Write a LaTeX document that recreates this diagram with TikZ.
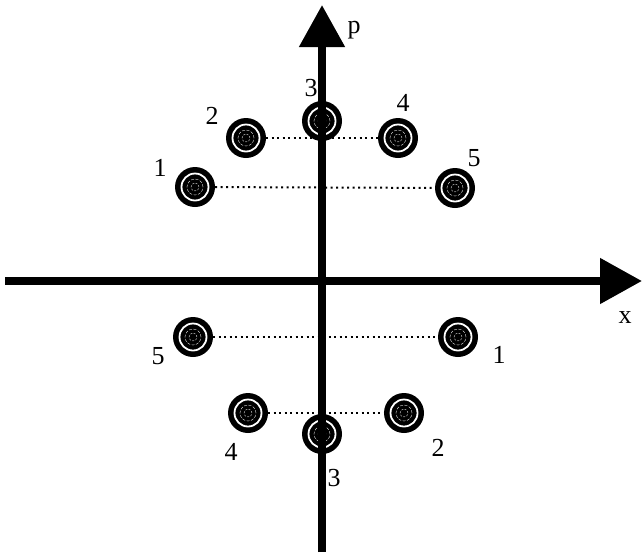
\documentclass[tikz,border=0pt]{standalone}
\usepackage{fontspec}
\setmainfont{Liberation Serif}
\usepackage{tikz}
\usetikzlibrary{arrows.meta}

\begin{document}
\begin{tikzpicture}[x=1pt,y=-1pt,
  every node/.style={font=\fontsize{26}{30}\selectfont},
  axis/.style={line width=8pt,-{Triangle[length=42pt,width=44pt]}},
  pair/.style={line width=2pt,dash pattern=on 2pt off 3.5pt},
  ring/.style={circle,fill=black,minimum size=40pt,inner sep=0pt,
    path picture={
      \draw[white,line width=1.8pt] (path picture bounding box.center) circle (13.5pt);
      \draw[white,line width=0.35pt,dash pattern=on 3pt off 1.5pt] (path picture bounding box.center) circle (8pt);
      \draw[white,line width=0.35pt,dash pattern=on 2pt off 1.5pt] (path picture bounding box.center) circle (4pt);
    }},
  lbl/.style={inner sep=0pt}]
\useasboundingbox (0,0) rectangle (642,552);
% upper row
\node[ring] (u1) at (195,187) {};
\node[ring] (u2) at (246,138) {};
\node[ring] (u3) at (322,121) {};
\node[ring] (u4) at (398,138) {};
\node[ring] (u5) at (455,188) {};
% lower row
\node[ring] (l5) at (193,337) {};
\node[ring] (l4) at (248,413) {};
\node[ring] (l3) at (322,434) {};
\node[ring] (l2) at (404,413) {};
\node[ring] (l1) at (458,337) {};
% dotted pairs
\draw[pair] (u2) -- (u4);
\draw[pair] (u1) -- (u5);
\draw[pair] (l5) -- (l1);
\draw[pair] (l4) -- (l2);
% axes
\coordinate (xs) at (5,281);
\coordinate (xe) at (642,281);
\coordinate (ps) at (322,552);
\coordinate (pe) at (322,5);
\draw[axis] (xs) -- (xe);
\draw[axis] (ps) -- (pe);
\node[lbl] (xl) at (625,318) {x};
\node[lbl] (pl) at (354,30) {p};
% labels
\node[lbl] (t1) at (160,168) {1};
\node[lbl] (t2) at (212,116) {2};
\node[lbl] (t3) at (311,88) {3};
\node[lbl] (t4) at (403,103) {4};
\node[lbl] (t5) at (474,158) {5};
\node[lbl] (b5) at (158,356) {5};
\node[lbl] (b4) at (231,452) {4};
\node[lbl] (b3) at (334,478) {3};
\node[lbl] (b2) at (438,448) {2};
\node[lbl] (b1) at (499,355) {1};
\end{tikzpicture}
\end{document}
